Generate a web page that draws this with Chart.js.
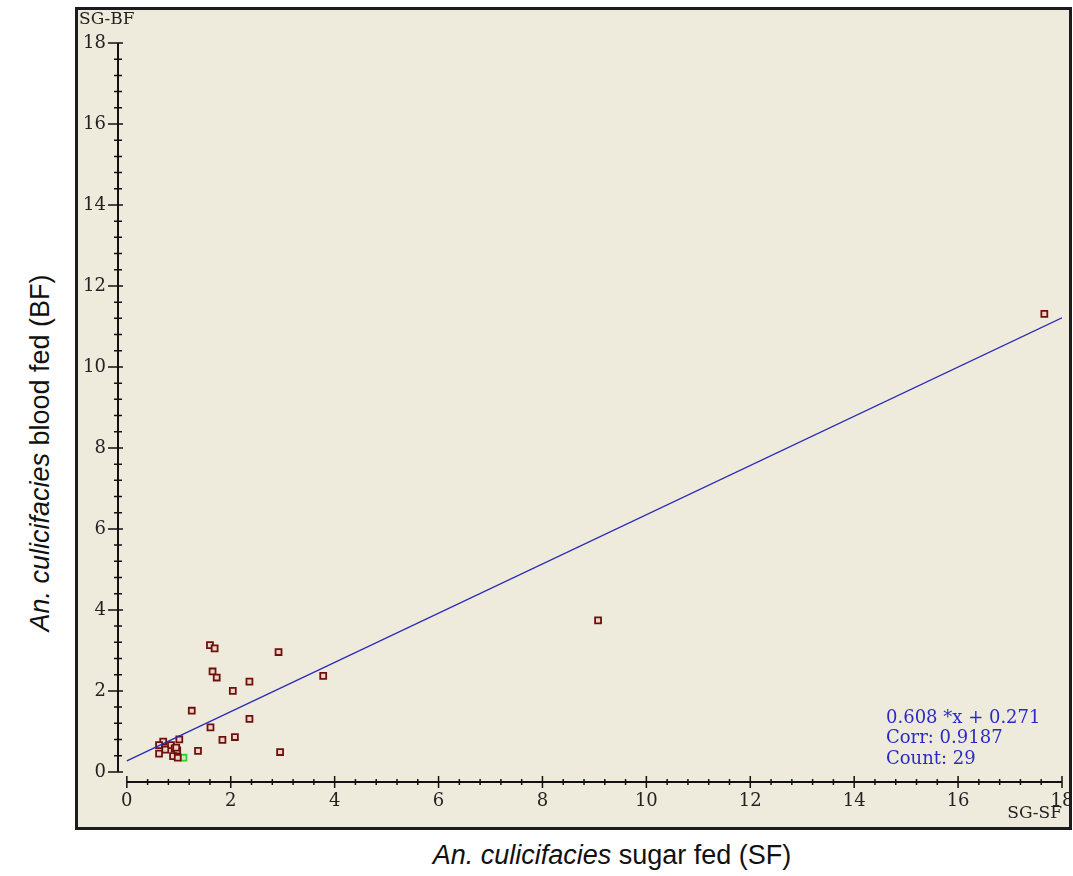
<!DOCTYPE html>
<html>
<head>
<meta charset="utf-8">
<script src="https://cdn.jsdelivr.net/npm/chart.js@4.4.0/dist/chart.umd.min.js"></script>
<style>
  body { margin: 0; background: #fff; width: 1073px; height: 876px; position: relative; overflow: hidden; font-family: "Liberation Sans", Arial, sans-serif; }
  #frame { position: absolute; left: 75px; top: 7px; width: 991px; height: 817px; border: 3px solid #1c1c1c; background: #EFEBDC; }
  .title { position: absolute; font-size: 27px; color: #111; white-space: nowrap; }
  #xTitle { left: 612px; top: 855px; transform: translate(-50%, -50%); }
  #yTitle { left: 40px; top: 453px; transform: translate(-50%, -50%) rotate(-90deg); }
</style>
</head>
<body>
<div id="frame"><canvas id="scatterSG" width="991" height="817"></canvas></div>
<div class="title" id="xTitle"><i>An. culicifacies</i> sugar fed (SF)</div>
<div class="title" id="yTitle"><i>An. culicifacies</i> blood fed (BF)</div>
<script>
// nilai (SG-SF vs SG-BF)
const sugarFed = [1.60, 1.69, 2.92, 1.65, 1.73, 2.36, 3.78, 2.04, 1.25, 2.36, 1.61, 2.08, 1.84, 2.95,
  1.01, 0.70, 0.62, 0.85, 0.74, 0.92, 0.97, 0.62, 1.37, 0.89, 0.98, 0.95, 9.07, 17.66];
const bloodFed = [3.13, 3.05, 2.96, 2.48, 2.33, 2.23, 2.37, 2.00, 1.51, 1.31, 1.10, 0.86, 0.79, 0.49,
  0.80, 0.75, 0.66, 0.66, 0.55, 0.58, 0.53, 0.45, 0.52, 0.39, 0.35, 0.60, 3.74, 11.31];
const selectedPoint = [{ x: 1.09, y: 0.35 }];
const fitSlope = 0.608;
const fitIntercept = 0.271;
const fitRange = [0, 18];
const fitText = ['0.608 *x + 0.271', 'Corr: 0.9187', 'Count: 29'];
const majorTicks = [0, 2, 4, 6, 8, 10, 12, 14, 16, 18];
const minorStep = 0.4;

const serif = '"DejaVu Serif", "Liberation Serif", serif';

function buildTicks(scale) {
  const ticks = [];
  const n = Math.round(majorTicks[majorTicks.length - 1] / minorStep);
  for (let i = 0; i <= n; i++) ticks.push({ value: +(i * minorStep).toFixed(2) });
  scale.ticks = ticks;
}
function isMajor(v) {
  return majorTicks.some(m => Math.abs(m - v) < 1e-6);
}

// garis sumbu + tanda tick digambar sendiri
const axesPlugin = {
  id: 'axesPlugin',
  afterDraw(chart) {
    const ctx = chart.ctx;
    const xs = chart.scales.x, ys = chart.scales.y;
    const area = chart.chartArea;
    ctx.save();
    ctx.strokeStyle = '#111';
    ctx.lineWidth = 2;
    ctx.beginPath();
    ctx.moveTo(area.left, ys.getPixelForValue(0));
    ctx.lineTo(area.left, ys.getPixelForValue(18));
    ctx.moveTo(xs.getPixelForValue(0), area.bottom);
    ctx.lineTo(xs.getPixelForValue(18), area.bottom);
    ctx.stroke();
    ctx.lineWidth = 1.5;
    ctx.beginPath();
    xs.ticks.forEach(t => {
      const px = xs.getPixelForValue(t.value);
      const h = isMajor(t.value) ? 6 : 3;
      ctx.moveTo(px, area.bottom - h);
      ctx.lineTo(px, area.bottom + h);
    });
    ys.ticks.forEach(t => {
      const py = ys.getPixelForValue(t.value);
      if (isMajor(t.value)) {
        ctx.moveTo(area.left - 10, py);
        ctx.lineTo(area.left + 5, py);
      } else {
        ctx.moveTo(area.left - 4, py);
        ctx.lineTo(area.left + 4, py);
      }
    });
    ctx.stroke();

    ctx.font = '17px ' + serif;
    ctx.fillStyle = '#222';
    ctx.textBaseline = 'middle';
    ctx.textAlign = 'left';
    ctx.fillText('SG-BF', 1, 10);
    ctx.textAlign = 'right';
    ctx.fillText('SG-SF', area.right, 804);

    ctx.font = '18px ' + serif;
    ctx.fillStyle = '#2b2bc4';
    ctx.textAlign = 'left';
    fitText.forEach((s, i) => ctx.fillText(s, 808, 708 + i * 20.5));
    ctx.restore();
  }
};

const scatterData = sugarFed.map((x, i) => ({ x: x, y: bloodFed[i] }));
const fitLine = fitRange.map(x => ({ x: x, y: fitSlope * x + fitIntercept }));

const configScatter = {
  type: 'scatter',
  data: {
    datasets: [{
      type: 'line',
      label: 'Fit',
      data: fitLine,
      borderColor: '#2a2ab8',
      borderWidth: 1.3,
      pointRadius: 0,
      fill: false
    }, {
      label: 'SG',
      data: scatterData,
      pointStyle: 'rect',
      pointRadius: 4.2,
      borderWidth: 1.8,
      borderColor: '#6e1010',
      backgroundColor: '#efd6c4'
    }, {
      label: 'Selected',
      data: selectedPoint,
      pointStyle: 'rect',
      pointRadius: 4.2,
      borderWidth: 1.8,
      borderColor: '#2bd42b',
      backgroundColor: '#c8f3c0'
    }]
  },
  options: {
    responsive: false,
    animation: false,
    layout: { padding: { top: 33, right: 7, left: 0, bottom: 0 } },
    plugins: {
      legend: { display: false },
      tooltip: { enabled: false }
    },
    scales: {
      x: {
        type: 'linear',
        min: -0.17,
        max: 18,
        afterBuildTicks: buildTicks,
        afterFit: s => { s.height = 45; s.paddingLeft = 0; s.paddingRight = 0; },
        grid: { display: false },
        border: { display: false },
        ticks: {
          autoSkip: false,
          maxRotation: 0,
          padding: 1,
          color: '#222',
          font: { family: serif, size: 18 },
          callback: v => isMajor(v) ? String(Math.round(v)) : ''
        }
      },
      y: {
        type: 'linear',
        min: -0.25,
        max: 18,
        afterBuildTicks: buildTicks,
        afterFit: s => { s.width = 40; s.paddingTop = 0; s.paddingBottom = 0; },
        grid: { display: false },
        border: { display: false },
        ticks: {
          autoSkip: false,
          padding: 4,
          color: '#222',
          font: { family: serif, size: 18 },
          callback: v => isMajor(v) ? String(Math.round(v)) : ''
        }
      }
    }
  },
  plugins: [axesPlugin]
};

const myScatter = new Chart(document.getElementById('scatterSG'), configScatter);
</script>
</body>
</html>
